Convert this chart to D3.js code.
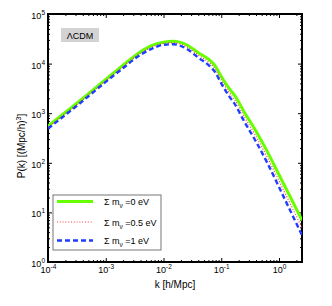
<!DOCTYPE html>
<html>
<head>
<meta charset="utf-8">
<script src="https://cdn.jsdelivr.net/npm/d3@7"></script>
<style>
body { margin: 0; background: white; }
text { font-family: "Liberation Sans", Arial, sans-serif; }
</style>
</head>
<body>
<script>
// wavenumber grid and P(k) for each neutrino mass
var k_vals = [1e-4, 3.16e-4, 1e-3, 2e-3, 4e-3, 6.3e-3, 0.01, 0.0148, 0.025, 0.04, 0.063, 0.079, 0.1, 0.141, 0.166, 0.251, 0.398, 0.631, 1, 1.585, 2.5]
var pk_0 = [550, 1585, 4790, 9330, 17400, 23400, 26900, 28200, 24000, 16600, 11700, 8900, 5500, 3020, 2400, 1050, 437, 166, 57.5, 20, 6.9]
var pk_05 = [519, 1500, 4520, 8710, 16200, 21600, 25400, 26300, 21900, 14800, 10200, 7670, 4680, 2510, 1970, 841, 343, 127, 43.2, 14.5, 4.9]
var pk_1 = [490, 1410, 4270, 8130, 15100, 20000, 24000, 24500, 20000, 13200, 8900, 6600, 3980, 2090, 1620, 676, 269, 98, 32.4, 10.5, 3.47]

var series_labels = ["=0 eV", "=0.5 eV", "=1 eV"]
var x_ticks = [1e-4, 1e-3, 1e-2, 1e-1, 1]
var y_ticks = [1, 10, 100, 1000, 1e4, 1e5]

var W = 332, H = 306
var m_left = 48, m_right = 302, m_top = 14, m_bottom = 262

var svg = d3.select("body").append("svg")
    .attr("width", W)
    .attr("height", H)

var x = d3.scaleLog().domain([1e-4, 2.5]).range([m_left, m_right])
var y = d3.scaleLog().domain([1, 1e5]).range([m_bottom, m_top])

// minor ticks 2..9 per decade
function minors(lo, hi, maxv) {
    var out = []
    for (var e = lo; e <= hi; ++e)
        for (var m = 2; m <= 9; ++m) {
            var v = m * Math.pow(10, e)
            if (v <= maxv) out.push(v)
        }
    return out
}
var x_minor = minors(-4, 0, 2.5)
var y_minor = minors(0, 4, 1e5)

function sup(sel) {
    sel.selectAll(".tick text").each(function(d) {
        var t = d3.select(this)
        t.text(null)
        t.append("tspan").text("10")
        t.append("tspan").attr("dy", -4).attr("font-size", 6.5).text(Math.round(Math.log10(d)))
    })
}

function axis(gen, tr, vals, size, labels, pad) {
    var g = svg.append("g").attr("transform", tr)
        .call(gen.tickValues(vals).tickSize(-size).tickPadding(pad || 3)
            .tickFormat(labels ? (d => d) : ""))
    g.select(".domain").remove()
    g.selectAll(".tick line").attr("stroke", "black").attr("stroke-width", 1)
    g.selectAll("text").attr("font-size", 9).attr("fill", "black")
    return g
}

// bottom/left with labels
var gx = axis(d3.axisBottom(x), `translate(0,${m_bottom})`, x_ticks, 4, true, 5)
sup(gx)
axis(d3.axisBottom(x), `translate(0,${m_bottom})`, x_minor, 2, false)
var gy = axis(d3.axisLeft(y), `translate(${m_left},0)`, y_ticks, 4, true, 3)
sup(gy)
gy.selectAll("text").attr("dy", "0.5em")
axis(d3.axisLeft(y), `translate(${m_left},0)`, y_minor, 2, false)
// top/right ticks only
axis(d3.axisTop(x), `translate(0,${m_top})`, x_ticks, 4, false)
axis(d3.axisTop(x), `translate(0,${m_top})`, x_minor, 2, false)
axis(d3.axisRight(y), `translate(${m_right},0)`, y_ticks, 4, false)
axis(d3.axisRight(y), `translate(${m_right},0)`, y_minor, 2, false)

svg.append("rect")
    .attr("x", m_left).attr("y", m_top)
    .attr("width", m_right - m_left).attr("height", m_bottom - m_top)
    .attr("fill", "none").attr("stroke", "black").attr("stroke-width", 2)

var styles = [
    {data: pk_0, color: "#66ff00", width: 3, dash: null},
    {data: pk_05, color: "#ff3b3b", width: 1.2, dash: "1,1.8"},
    {data: pk_1, color: "#1f3cff", width: 2.4, dash: "5,3"}
]

var line = d3.line()
    .x(d => x(d[0]))
    .y(d => y(d[1]))
    .curve(d3.curveMonotoneX)

svg.append("clipPath").attr("id", "clip")
    .append("rect").attr("x", m_left).attr("y", m_top).attr("width", m_right - m_left).attr("height", m_bottom - m_top)

styles.forEach(function(s) {
    svg.append("path")
        .datum(k_vals.map((k, i) => [k, s.data[i]]))
        .attr("d", line)
        .attr("clip-path", "url(#clip)")
        .attr("fill", "none")
        .attr("stroke", s.color)
        .attr("stroke-width", s.width)
        .attr("stroke-dasharray", s.dash)
})

// LCDM label
svg.append("rect")
    .attr("x", 61).attr("y", 28).attr("width", 38).attr("height", 14)
    .attr("fill", "#d3d3d3")
svg.append("text")
    .attr("x", 80).attr("y", 38.5)
    .attr("text-anchor", "middle")
    .attr("font-size", 9)
    .text("\u039BCDM")

// legend
var leg = svg.append("g")
leg.append("rect")
    .attr("x", 53).attr("y", 195).attr("width", 108).attr("height", 55)
    .attr("fill", "white").attr("stroke", "#777").attr("stroke-width", 1)
styles.forEach(function(s, i) {
    var ly = [201.5, 222, 240.5][i]
    leg.append("line")
        .attr("x1", 57).attr("x2", 93).attr("y1", ly).attr("y2", ly)
        .attr("stroke", s.color)
        .attr("stroke-width", s.width)
        .attr("stroke-dasharray", s.dash)
    var t = leg.append("text")
        .attr("x", 104).attr("y", ly + 3.5)
        .attr("font-size", 9)
    t.append("tspan").text("\u03A3 m")
    t.append("tspan").attr("dy", 3).attr("font-size", 6.5).text("\u03BD")
    t.append("tspan").attr("dy", -3).text(" " + series_labels[i])
})

// axis labels
svg.append("text")
    .attr("x", 175).attr("y", 288)
    .attr("text-anchor", "middle")
    .attr("font-size", 10)
    .text("k [h/Mpc]")

var yl = svg.append("text")
    .attr("transform", "translate(25,146) rotate(-90)")
    .attr("text-anchor", "middle")
    .attr("font-size", 10)
yl.append("tspan").text("P(k) [(Mpc/h)")
yl.append("tspan").attr("dy", -4).attr("font-size", 7).text("3")
yl.append("tspan").attr("dy", 4).text("]")
</script>
</body>
</html>
